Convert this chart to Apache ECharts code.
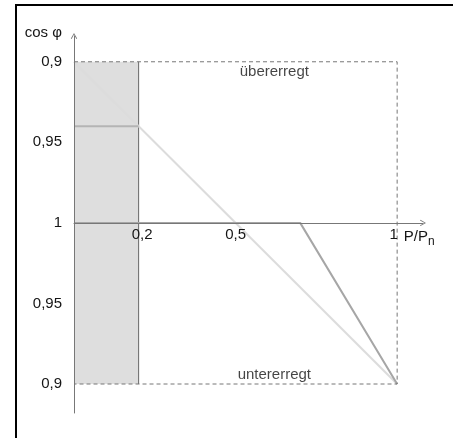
<!DOCTYPE html>
<html>
<head>
<meta charset="utf-8">
<script src="https://cdn.jsdelivr.net/npm/echarts@6/dist/echarts.min.js"></script>
<style>
html,body{margin:0;padding:0;background:#fff;}
#c{width:453px;height:438px;}
</style>
</head>
<body>
<div id="c"></div>
<script>
// ---- data ----
const xTicks = [0.2, 0.5, 1];
const xTickLabels = ['0,2', '0,5', '1'];
const yTicks = [1, 0.5, 0, -0.5, -1];
const yTickLabels = ['0,9', '0,95', '1', '0,95', '0,9'];
const diagX = [0, 1];
const diagY = [1, -1];
const curveX = [0, 0.7, 1];
const curveY = [0, 0, -1];
const levelX = [0, 0.2];
const levelY = [0.6, 0.6];
const boxX = [0, 0.2];
const boxY = [-1, 1];
const frameX = [0, 1, 1, 0];
const frameY = [1, 1, -1, -1];
const notes = ['übererregt', 'untererregt'];
const noteX = [0.62, 0.62];
const noteY = [0.94, -0.944];

const zip = (xs, ys) => xs.map((x, i) => [x, ys[i]]);
const FONT = '"Liberation Sans", Arial, sans-serif';
const TXT = '#151515';
const arrowPath = 'path://M0,7 L4,0 L8,7 L7,7.6 L4,1.8 L1,7.6 Z';

const Y_MIN = -1.18, Y_MAX = 1.16;
const GRID_TOP = 36, GRID_H = 377;
// distance from grid bottom to the y = 0 line, so the x axis (line + labels) sits on zero
const xAxisOffset = -GRID_H * (0 - Y_MIN) / (Y_MAX - Y_MIN);

const chart = echarts.init(document.getElementById('c'), null, {renderer: 'canvas'});
chart.setOption({
  animation: false,
  backgroundColor: '#ffffff',
  textStyle: {fontFamily: FONT},
  grid: {left: 74, top: GRID_TOP, width: 349, height: GRID_H, containLabel: false},
  xAxis: {
    type: 'value', min: 0, max: 1.08, z: 10,
    position: 'bottom', offset: xAxisOffset,
    splitLine: {show: false},
    axisTick: {show: false},
    axisLine: {onZero: false, lineStyle: {color: '#777', width: 1},
      symbol: ['none', arrowPath], symbolSize: [7, 6]},
    axisLabel: {
      customValues: xTicks, margin: 4, fontSize: 15, color: TXT, fontFamily: FONT,
      formatter: v => {
        const i = xTicks.findIndex(t => Math.abs(t - v) < 1e-6);
        if (i < 0) return '';
        if (i === 0) return '{a|' + xTickLabels[i] + '}';
        if (i === xTicks.length - 1) return '{c|' + xTickLabels[i] + '}';
        return xTickLabels[i];
      },
      rich: {
        a: {fontSize: 15, color: TXT, padding: [0, 0, 0, 7]},
        c: {fontSize: 15, color: TXT, padding: [0, 7, 0, 0]}
      }
    },
    name: '{p|P/P}{s|n}',
    nameLocation: 'end', nameGap: -22,
    nameTextStyle: {
      align: 'left', verticalAlign: 'top', padding: [6, 0, 0, 0],
      rich: {
        p: {fontSize: 15, lineHeight: 17, color: TXT, verticalAlign: 'top', fontFamily: FONT},
        s: {fontSize: 12, lineHeight: 14, color: TXT, verticalAlign: 'top', padding: [7, 0, 0, 0], fontFamily: FONT}
      }
    }
  },
  yAxis: {
    type: 'value', min: Y_MIN, max: Y_MAX, z: 10,
    splitLine: {show: false},
    axisTick: {show: false},
    axisLine: {onZero: true, lineStyle: {color: '#777', width: 1},
      symbol: ['none', arrowPath], symbolSize: [7, 6]},
    axisLabel: {
      customValues: yTicks, margin: 12, fontSize: 15, color: TXT, fontFamily: FONT,
      formatter: v => {
        const i = yTicks.findIndex(t => Math.abs(t - v) < 1e-6);
        return i < 0 ? '' : yTickLabels[i];
      }
    },
    name: 'cos φ',
    nameLocation: 'end', nameGap: 3,
    nameTextStyle: {align: 'right', verticalAlign: 'middle', padding: [0, 12, 0, 0], fontSize: 15, color: TXT, fontFamily: FONT}
  },
  series: [
    {
      type: 'line', z: 1, silent: true, symbol: 'none',
      data: [],
      markArea: {
        silent: true,
        itemStyle: {color: '#dedede', borderWidth: 0},
        data: [[{coord: [boxX[0], boxY[1]]}, {coord: [boxX[1], boxY[0]]}]]
      }
    },
    {
      type: 'line', z: 3, silent: true, symbol: 'none',
      data: zip([boxX[1], boxX[1]], boxY),
      lineStyle: {color: '#666', width: 1}
    },
    {
      type: 'line', z: 4, silent: true, symbol: 'none',
      data: zip(diagX, diagY),
      lineStyle: {color: '#dcdcdc', width: 2}
    },
    {
      type: 'line', z: 4, silent: true, symbol: 'none',
      data: zip(levelX, levelY),
      lineStyle: {color: '#b4b4b4', width: 2}
    },
    {
      type: 'line', z: 5, silent: true, symbol: 'none',
      data: zip(curveX, curveY),
      lineStyle: {color: '#a6a6a6', width: 2}
    },
    {
      type: 'line', z: 6, silent: true, symbol: 'none',
      data: zip(frameX, frameY),
      lineStyle: {color: '#777', width: 1, type: [4, 3]}
    },
    {
      type: 'scatter', z: 7, silent: true, symbolSize: 0,
      data: notes.map((t, i) => [noteX[i], noteY[i], t]),
      label: {show: true, position: 'inside', formatter: p => p.value[2], fontSize: 15, color: TXT, fontFamily: FONT}
    }
  ],
  graphic: [
    {type: 'line', silent: true, shape: {x1: 15, y1: 5, x2: 453, y2: 5}, style: {stroke: '#000', lineWidth: 2}},
    {type: 'line', silent: true, shape: {x1: 16, y1: 4, x2: 16, y2: 438}, style: {stroke: '#000', lineWidth: 2}}
  ]
});
</script>
</body>
</html>
